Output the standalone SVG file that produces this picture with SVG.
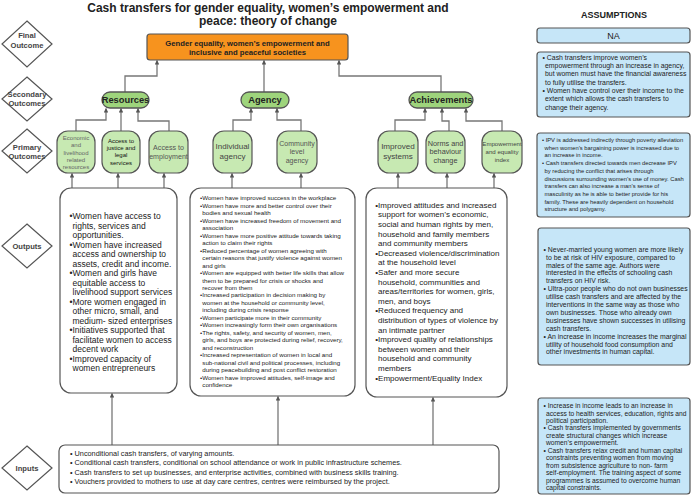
<svg xmlns="http://www.w3.org/2000/svg" width="692" height="497" viewBox="0 0 692 497">
<style>
text{font-family:"Liberation Sans",Arial,sans-serif;fill:#222}
.b{font-weight:bold}
.dm{fill:#fff;stroke:#555;stroke-width:1.2}
.dt{font-size:7.6px;font-weight:bold;fill:#444;text-anchor:middle}
.sec{fill:#9ed47c;stroke:#555;stroke-width:1.3}
.pri{fill:#c7e9b2;stroke:#555;stroke-width:1.2}
.box{fill:#fff;stroke:#555;stroke-width:1.2}
.asm{fill:#c6e6f8;stroke:#555;stroke-width:1.2}
.c{fill:none;stroke:#777;stroke-width:1.3;marker-end:url(#ah)}
.m{text-anchor:middle}
</style>
<defs>
<marker id="ah" viewBox="0 0 10 10" refX="9" refY="5" markerWidth="4.5" markerHeight="4.5" orient="auto" markerUnits="userSpaceOnUse">
<path d="M0,0 L10,5 L0,10 z" fill="#555"/>
</marker>
</defs>
<rect width="692" height="497" fill="#fff"/>

<g id="title">
<text class="b m" x="268" y="11.5" font-size="12px">Cash transfers for gender equality, women’s empowerment and</text>
<text class="b m" x="268" y="24.5" font-size="12px">peace: theory of change</text>
</g>

<g id="labels">
<polygon class="dm" points="27,21 52,44 27,67 2,44"/>
<text class="dt" x="27" y="38">Final</text><text class="dt" x="27" y="47.5">Outcome</text>
<polygon class="dm" points="27,77 52,99 27,121 2,99"/>
<text class="dt" x="27" y="97">Secondary</text><text class="dt" x="27" y="106">Outcomes</text>
<polygon class="dm" points="27,129 52,151 27,173 2,151"/>
<text class="dt" x="27" y="150">Primary</text><text class="dt" x="27" y="159">Outcomes</text>
<polygon class="dm" points="27,224 52,246 27,268 2,246"/>
<text class="dt" x="27" y="249">Outputs</text>
<polygon class="dm" points="27,446 52,468 27,490 2,468"/>
<text class="dt" x="27" y="471">Inputs</text>
</g>

<g id="connectors">
<path class="c" d="M125,92 V76 H157 V60.5"/>
<path class="c" d="M264,92 V60.5"/>
<path class="c" d="M441,92 V76 H339 V60.5"/>
<path class="c" d="M76,131 V120 H106 V108.5"/>
<path class="c" d="M121,131 V108.5"/>
<path class="c" d="M169,131 V121 H138 V108.5"/>
<path class="c" d="M233,131 V120 H251 V108.5"/>
<path class="c" d="M301,131 V120 H277 V108.5"/>
<path class="c" d="M395,131 V120 H425 V108.5"/>
<path class="c" d="M449,131 V121 H442 V108.5"/>
<path class="c" d="M502,131 V121 H466 V108.5"/>
<path class="c" d="M72,188 V173.5"/>
<path class="c" d="M118,188 V173.5"/>
<path class="c" d="M164,188 V173.5"/>
<path class="c" d="M232,188 V173.5"/>
<path class="c" d="M301,188 V173.5"/>
<path class="c" d="M398,188 V173.5"/>
<path class="c" d="M447,188 V173.5"/>
<path class="c" d="M494,188 V173.5"/>
<path class="c" d="M112,445 V393.5"/>
<path class="c" d="M278,445 V396.5"/>
<path class="c" d="M433,445 V397.5"/>
</g>

<g id="final">
<rect x="147" y="34" width="201" height="26" rx="3" fill="#f7931e" stroke="#555" stroke-width="1.2"/>
<text class="b m" x="247.5" y="45.8" font-size="7.7px">Gender equality, women’s empowerment and</text>
<text class="b m" x="247.5" y="55.3" font-size="7.7px">inclusive and peaceful societies</text>
</g>

<g id="resources">
<rect class="sec" x="102" y="92" width="47" height="16" rx="8"/>
<text class="b m" x="125.5" y="103.3" font-size="9.3px">Resources</text>
</g>
<g id="agency">
<rect class="sec" x="241" y="92" width="48" height="16" rx="8"/>
<text class="b m" x="265" y="103.3" font-size="9.3px">Agency</text>
</g>
<g id="achievements">
<rect class="sec" x="409" y="92" width="64" height="16" rx="8"/>
<text class="b m" x="441" y="103.3" font-size="9.3px">Achievements</text>
</g>

<g id="economic">
<rect class="pri" x="57" y="131" width="38" height="42" rx="11"/>
<text class="m" font-size="6px" fill="#666" style="fill:#666"><tspan x="76" y="139.8">Economic</tspan><tspan x="76" y="147.4">and</tspan><tspan x="76" y="154.8">livelihood</tspan><tspan x="76" y="162.1">related</tspan><tspan x="76" y="169.4">resources</tspan></text>
</g>
<g id="justice">
<rect class="pri" x="102" y="131" width="38" height="42" rx="11"/>
<text class="m" font-size="6px" style="fill:#111"><tspan x="121" y="142.8">Access to</tspan><tspan x="121" y="150.4">justice and</tspan><tspan x="121" y="157.4">legal</tspan><tspan x="121" y="164.8">services</tspan></text>
</g>
<g id="employment">
<rect class="pri" x="149" y="131" width="39" height="42" rx="11"/>
<text class="m" font-size="7.1px" style="fill:#555"><tspan x="168.5" y="149.8">Access to</tspan><tspan x="168.5" y="158.5">employment</tspan></text>
</g>
<g id="individual">
<rect class="pri" x="213" y="131" width="39" height="42" rx="11"/>
<text class="m" font-size="8px" style="fill:#444"><tspan x="232.5" y="148.8">Individual</tspan><tspan x="232.5" y="158.8">agency</tspan></text>
</g>
<g id="community">
<rect class="pri" x="277" y="131" width="40" height="42" rx="11"/>
<text class="m" font-size="7px" style="fill:#555"><tspan x="297" y="145.8">Community</tspan><tspan x="297" y="154.2">level</tspan><tspan x="297" y="162.5">agency</tspan></text>
</g>
<g id="systems">
<rect class="pri" x="378" y="131" width="40" height="42" rx="11"/>
<text class="m" font-size="8.1px" style="fill:#444"><tspan x="398" y="148.8">Improved</tspan><tspan x="398" y="158.8">systems</tspan></text>
</g>
<g id="norms">
<rect class="pri" x="426" y="131" width="39" height="42" rx="11"/>
<text class="m" font-size="7.3px" style="fill:#444"><tspan x="445.5" y="145.8">Norms and</tspan><tspan x="445.5" y="154.2">behaviour</tspan><tspan x="445.5" y="162.5">change</tspan></text>
</g>
<g id="index">
<rect class="pri" x="482" y="131" width="40" height="42" rx="11"/>
<text class="m" font-size="6.1px" style="fill:#444"><tspan x="502" y="145.5">Empowerment</tspan><tspan x="502" y="153.9">and equality</tspan><tspan x="502" y="161.5">index</tspan></text>
</g>

<g id="outputs-resources">
<rect class="box" x="60" y="188" width="117" height="205" rx="11"/>
<text font-size="8.5px"><tspan x="69.5" y="219">•Women have access to</tspan><tspan x="72.5" y="228.5">rights, services and</tspan><tspan x="72.5" y="238">opportunities.</tspan><tspan x="69.5" y="247.5">•Women have increased</tspan><tspan x="72.5" y="257">access and ownership to</tspan><tspan x="72.5" y="266.5">assets, credit and income.</tspan><tspan x="69.5" y="276">•Women and girls have</tspan><tspan x="72.5" y="285.5">equitable access to</tspan><tspan x="72.5" y="295">livelihood support services</tspan><tspan x="69.5" y="304.5">•More women engaged in</tspan><tspan x="72.5" y="314">other micro, small, and</tspan><tspan x="72.5" y="323.5">medium- sized enterprises</tspan><tspan x="69.5" y="333">•Initiatives supported that</tspan><tspan x="72.5" y="342.5">facilitate women to access</tspan><tspan x="72.5" y="352">decent work</tspan><tspan x="69.5" y="361.5">•Improved capacity of</tspan><tspan x="72.5" y="371">women entrepreneurs</tspan></text>
</g>

<g id="outputs-agency">
<rect class="box" x="190" y="188" width="165" height="208" rx="11"/>
<text font-size="6.2px"><tspan x="200" y="200.2">•Women have improved success in the workplace</tspan><tspan x="200" y="207.7">•Women have more and better control over their</tspan><tspan x="202.3" y="215.2">bodies and sexual health</tspan><tspan x="200" y="222.6">•Women have increased freedom of movement and</tspan><tspan x="202.3" y="230.1">association</tspan><tspan x="200" y="237.6">•Women have more positive attitude towards taking</tspan><tspan x="202.3" y="245.1">action to claim their rights</tspan><tspan x="200" y="252.6">•Reduced percentage of women agreeing with</tspan><tspan x="202.3" y="260">certain reasons that justify violence against women</tspan><tspan x="202.3" y="267.5">and girls</tspan><tspan x="200" y="275">•Women are equipped with better life skills that allow</tspan><tspan x="202.3" y="282.5">them to be prepared for crisis or shocks and</tspan><tspan x="202.3" y="290">recover from them</tspan><tspan x="200" y="297.4">•Increased participation in decision making by</tspan><tspan x="202.3" y="304.9">women at the household or community level,</tspan><tspan x="202.3" y="312.4">including during crisis response</tspan><tspan x="200" y="319.9">•Women participate more in their community</tspan><tspan x="200" y="327.4">•Women increasingly form their own organisations</tspan><tspan x="200" y="334.8">•The rights, safety, and security of women, men,</tspan><tspan x="202.3" y="342.3">girls, and boys are protected during relief, recovery,</tspan><tspan x="202.3" y="349.8">and reconstruction</tspan><tspan x="200" y="357.3">•Increased representation of women in local and</tspan><tspan x="202.3" y="364.8">sub-national civil and political processes, including</tspan><tspan x="202.3" y="372.2">during peacebuilding and post conflict restoration</tspan><tspan x="200" y="379.7">•Women have improved attitudes, self-image and</tspan><tspan x="202.3" y="387.2">confidence</tspan></text>
</g>

<g id="outputs-achievements">
<rect class="box" x="366" y="188" width="141" height="209" rx="11"/>
<text font-size="8px"><tspan x="375.3" y="207.8">•Improved attitudes and increased</tspan><tspan x="378" y="217.4">support for women’s economic,</tspan><tspan x="378" y="227">social and human rights by men,</tspan><tspan x="378" y="236.6">household and family members</tspan><tspan x="378" y="246.2">and community members</tspan><tspan x="375.3" y="255.8">•Decreased violence/discrimination</tspan><tspan x="378" y="265.4">at the household level</tspan><tspan x="375.3" y="275">•Safer and more secure</tspan><tspan x="378" y="284.6">household, communities and</tspan><tspan x="378" y="294.2">areas/territories for women, girls,</tspan><tspan x="378" y="303.8">men, and boys</tspan><tspan x="375.3" y="313.4">•Reduced frequency and</tspan><tspan x="378" y="323">distribution of types of violence by</tspan><tspan x="378" y="332.6">an intimate partner</tspan><tspan x="375.3" y="342.2">•Improved quality of relationships</tspan><tspan x="378" y="351.8">between women and their</tspan><tspan x="378" y="361.4">household and community</tspan><tspan x="378" y="371">members</tspan><tspan x="375.3" y="380.6">•Empowerment/Equality Index</tspan></text>
</g>

<g id="inputs">
<rect class="box" x="59" y="445" width="440" height="48" rx="6"/>
<text font-size="7.3px"><tspan x="70" y="455.6">• Unconditional cash transfers, of varying amounts.</tspan><tspan x="70" y="465.1">• Conditional cash transfers, conditional on school attendance or work in public infrastructure schemes.</tspan><tspan x="70" y="474.6">• Cash transfers to set up businesses, and enterprise activities, combined with business skills training.</tspan><tspan x="70" y="484.1">• Vouchers provided to mothers to use at day care centres, centres were reimbursed by the project.</tspan></text>
</g>

<g id="assumptions">
<text class="b m" x="614" y="18.3" font-size="9px">ASSUMPTIONS</text>
</g>
<g id="asm-final">
<rect class="asm" x="537" y="28" width="153" height="15" rx="3"/>
<text class="m" x="613.5" y="39.2" font-size="9px">NA</text>
</g>
<g id="asm-secondary">
<rect class="asm" x="537" y="52" width="153" height="65" rx="3"/>
<text font-size="6.9px"><tspan x="542.5" y="59.7">• Cash transfers improve women’s</tspan><tspan x="545" y="68">empowerment through an increase in agency,</tspan><tspan x="545" y="76.4">but women must have the financial awareness</tspan><tspan x="545" y="84.7">to fully utilise the transfers.</tspan><tspan x="542.5" y="93">• Women have control over their income to the</tspan><tspan x="545" y="101.4">extent which allows the cash transfers to</tspan><tspan x="545" y="109.7">change their agency.</tspan></text>
</g>
<g id="asm-primary">
<rect class="asm" x="537" y="133" width="153" height="84" rx="3"/>
<text font-size="5.8px"><tspan x="542" y="142">• IPV is addressed indirectly through poverty alleviation</tspan><tspan x="544.5" y="149.7">when women’s bargaining power is increased due to</tspan><tspan x="544.5" y="157.4">an increase in income.</tspan><tspan x="542" y="165.1">• Cash transfers directed towards men decrease IPV</tspan><tspan x="544.5" y="172.8">by reducing the conflict that arises through</tspan><tspan x="544.5" y="180.5">discussions surrounding women’s use of money. Cash</tspan><tspan x="544.5" y="188.2">transfers can also increase a man’s sense of</tspan><tspan x="544.5" y="195.9">masculinity as he is able to better provide for his</tspan><tspan x="544.5" y="203.6">family. These are heavily dependent on household</tspan><tspan x="544.5" y="211.3">structure and polygamy.</tspan></text>
</g>
<g id="asm-outputs">
<rect class="asm" x="538" y="228" width="152" height="137" rx="3"/>
<text font-size="6.9px"><tspan x="543.5" y="251.7">• Never-married young women are more likely</tspan><tspan x="546" y="259.6">to be at risk of HIV exposure, compared to</tspan><tspan x="546" y="267.5">males of the same age. Authors were</tspan><tspan x="546" y="275.4">interested in the effects of schooling cash</tspan><tspan x="546" y="283.3">transfers on HIV risk.</tspan><tspan x="543.5" y="291.2">• Ultra-poor people who do not own businesses</tspan><tspan x="546" y="299.1">utilise cash transfers and are affected by the</tspan><tspan x="546" y="307">interventions in the same way as those who</tspan><tspan x="546" y="314.9">own businesses. Those who already own</tspan><tspan x="546" y="322.8">businesses have shown successes in utilising</tspan><tspan x="546" y="330.7">cash transfers.</tspan><tspan x="543.5" y="338.6">• An increase in income increases the marginal</tspan><tspan x="546" y="346.5">utility of household food consumption and</tspan><tspan x="546" y="354.4">other investments in human capital.</tspan></text>
</g>
<g id="asm-inputs">
<rect class="asm" x="538" y="398" width="152" height="96" rx="3"/>
<text font-size="6.7px"><tspan x="543.5" y="408">• Increase in income leads to an increase in</tspan><tspan x="546" y="415.5">access to health services, education, rights and</tspan><tspan x="546" y="422.9">political participation.</tspan><tspan x="543.5" y="430.4">• Cash transfers implemented by governments</tspan><tspan x="546" y="437.8">create structural changes which increase</tspan><tspan x="546" y="445.3">women’s empowerment.</tspan><tspan x="543.5" y="452.7">• Cash transfers relax credit and human capital</tspan><tspan x="546" y="460.2">constraints preventing women from moving</tspan><tspan x="546" y="467.6">from subsistence agriculture to non- farm</tspan><tspan x="546" y="475.1">self-employment. The training aspect of some</tspan><tspan x="546" y="482.5">programmes is assumed to overcome human</tspan><tspan x="546" y="490">capital constraints.</tspan></text>
</g>
</svg>
